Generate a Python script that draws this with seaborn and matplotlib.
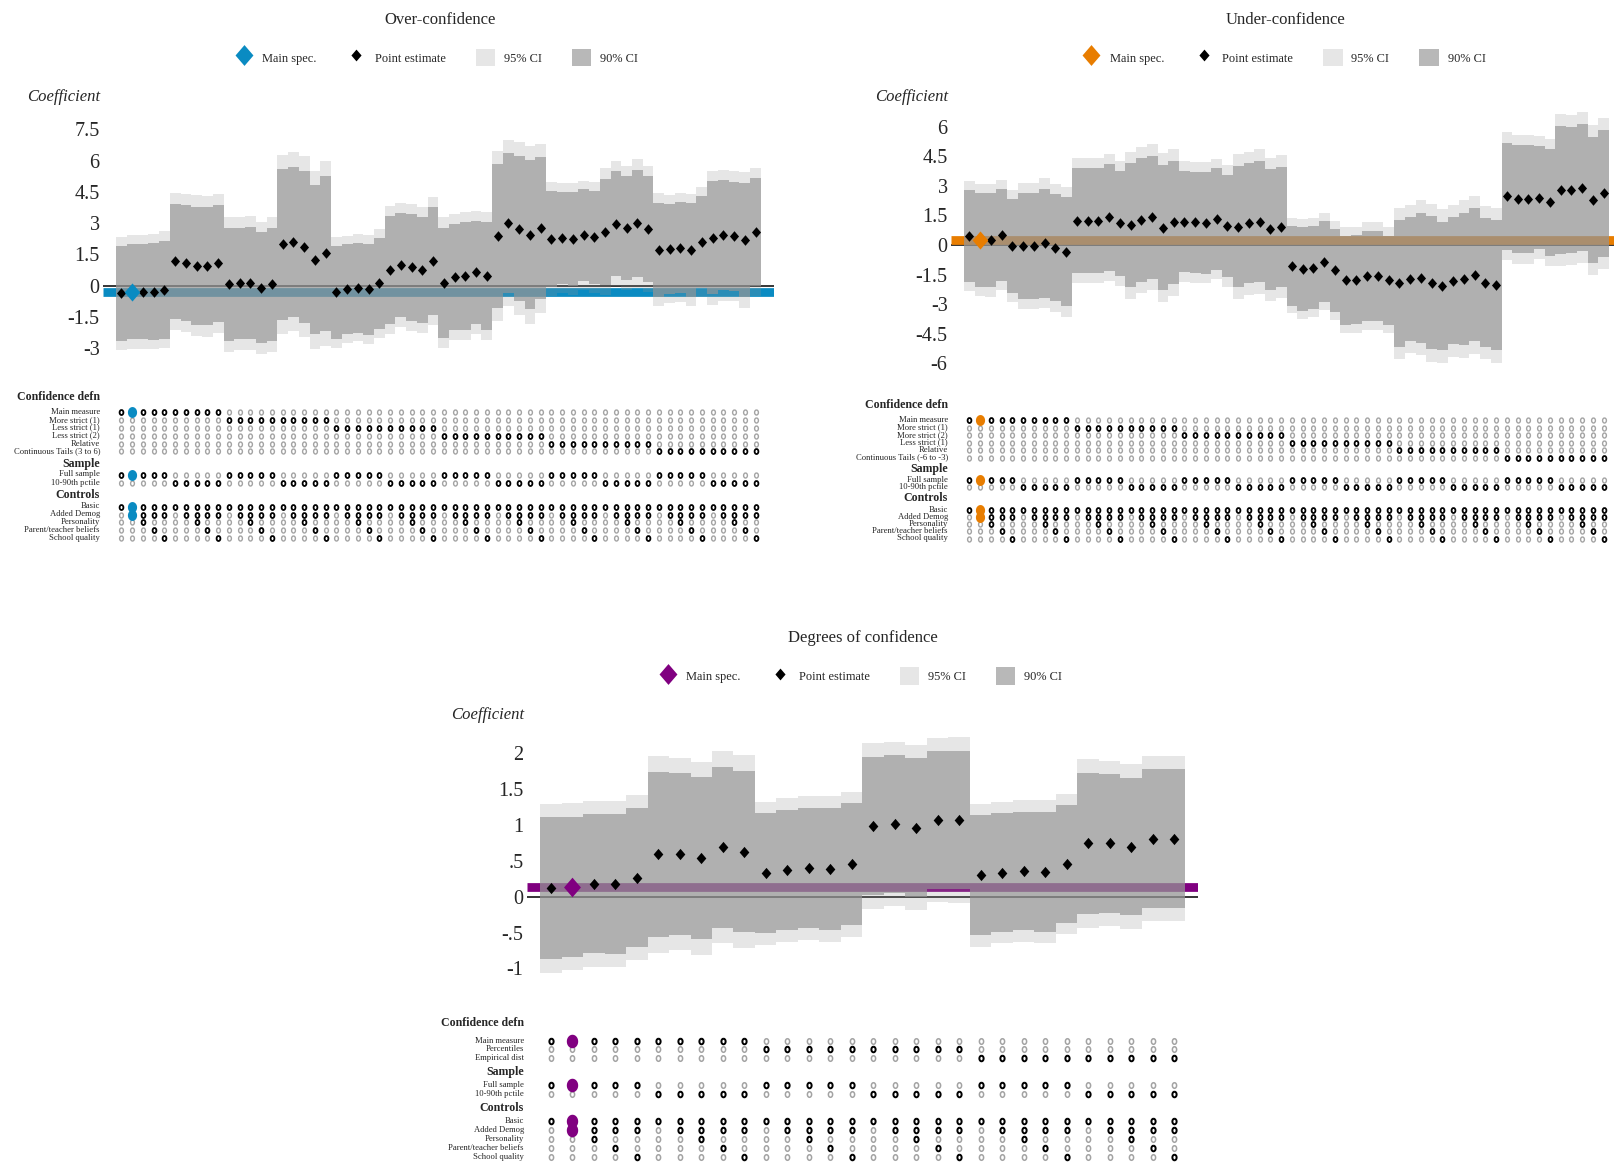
import numpy as np
import pandas as pd
import matplotlib
matplotlib.use("Agg")
import matplotlib.pyplot as plt
from matplotlib.lines import Line2D
from matplotlib.patches import Patch
from matplotlib.path import Path
import seaborn as sns

sns.set_theme(style="white")
plt.rcParams["font.family"] = ["Liberation Serif", "DejaVu Serif"]

# ------------------------------------------------------------------ data
over_est = [-0.37, -0.29, -0.29, -0.29, -0.19,
            1.17, 1.09, 0.96, 0.93, 1.07,
            0.06, 0.11, 0.14, -0.10, 0.06,
            1.98, 2.11, 1.87, 1.25, 1.55,
            -0.32, -0.16, -0.10, -0.18, 0.11,
            0.75, 0.99, 0.88, 0.74, 1.18,
            0.14, 0.43, 0.47, 0.64, 0.46,
            2.38, 3.01, 2.73, 2.44, 2.76,
            2.24, 2.30, 2.24, 2.41, 2.32,
            2.59, 2.98, 2.76, 2.99, 2.71,
            1.72, 1.77, 1.83, 1.69, 2.09,
            2.30, 2.42, 2.38, 2.20, 2.59]
over_se = [1.39, 1.39, 1.39, 1.41, 1.43,
           1.67, 1.69, 1.72, 1.72, 1.70,
           1.65, 1.62, 1.64, 1.62, 1.65,
           2.20, 2.19, 2.22, 2.18, 2.26,
           1.35, 1.31, 1.31, 1.33, 1.33,
           1.57, 1.51, 1.56, 1.54, 1.57,
           1.60, 1.54, 1.57, 1.51, 1.57,
           2.09, 2.04, 2.12, 2.17, 2.07,
           1.40, 1.34, 1.37, 1.34, 1.36,
           1.55, 1.53, 1.52, 1.57, 1.54,
           1.38, 1.32, 1.33, 1.37, 1.34,
           1.64, 1.60, 1.59, 1.66, 1.57]

under_est = [0.46, 0.25, 0.25, 0.51, -0.03,
             -0.05, -0.05, 0.08, -0.14, -0.35,
             1.23, 1.23, 1.23, 1.40, 1.10,
             1.01, 1.27, 1.40, 0.88, 1.15,
             1.18, 1.15, 1.13, 1.32, 0.96,
             0.93, 1.10, 1.18, 0.79, 0.93,
             -1.06, -1.20, -1.15, -0.84, -1.27,
             -1.79, -1.77, -1.57, -1.57, -1.79,
             -1.94, -1.72, -1.66, -1.91, -2.08,
             -1.82, -1.72, -1.52, -1.91, -2.04,
             2.48, 2.33, 2.33, 2.40, 2.16,
             2.79, 2.79, 2.91, 2.30, 2.62]
under_se = [1.42, 1.44, 1.46, 1.43, 1.45,
            1.64, 1.64, 1.68, 1.65, 1.68,
            1.62, 1.62, 1.62, 1.64, 1.62,
            1.90, 1.90, 1.89, 1.93, 1.90,
            1.56, 1.56, 1.57, 1.56, 1.57,
            1.87, 1.85, 1.87, 1.86, 1.85,
            1.23, 1.29, 1.28, 1.26, 1.28,
            1.37, 1.37, 1.40, 1.40, 1.37,
            1.95, 1.92, 2.01, 2.04, 1.98,
            1.96, 2.04, 2.05, 1.98, 2.01,
            1.65, 1.67, 1.67, 1.59, 1.64,
            1.97, 1.95, 1.96, 1.94, 1.95]

degree_est = [0.116, 0.14, 0.18, 0.18, 0.265,
              0.59, 0.595, 0.535, 0.69, 0.63,
              0.326, 0.37, 0.40, 0.39, 0.45,
              0.986, 1.014, 0.963, 1.07, 1.07,
              0.30, 0.335, 0.358, 0.35, 0.456,
              0.744, 0.744, 0.70, 0.81, 0.81]
degree_se = [0.602, 0.593, 0.589, 0.591, 0.588,
             0.700, 0.684, 0.687, 0.683, 0.686,
             0.509, 0.510, 0.512, 0.518, 0.517,
             0.588, 0.585, 0.588, 0.585, 0.588,
             0.510, 0.503, 0.503, 0.508, 0.500,
             0.600, 0.588, 0.584, 0.588, 0.588]

over_defn = ["Main measure", "More strict (1)", "Less strict (1)",
             "Less strict (2)", "Relative", "Continuous Tails (3 to 6)"]
under_defn = ["Main measure", "More strict (1)", "More strict (2)",
              "Less strict (1)", "Relative", "Continuous Tails (-6 to -3)"]
degree_defn = ["Main measure", "Percentiles", "Empirical dist"]
sample_labels = ["Full sample", "10-90th pctile"]
control_labels = ["Basic", "Added Demog", "Personality",
                  "Parent/teacher beliefs", "School quality"]
# control sets of the five specifications inside every sample block
control_sets = [["Basic"],
                ["Basic", "Added Demog"],
                ["Basic", "Added Demog", "Personality"],
                ["Basic", "Added Demog", "Parent/teacher beliefs"],
                ["Basic", "Added Demog", "School quality"]]
main_spec = 1

over_ticks = [7.5, 6, 4.5, 3, 1.5, 0, -1.5, -3]
over_ticklabels = ["7.5", "6", "4.5", "3", "1.5", "0", "-1.5", "-3"]
under_ticks = [6, 4.5, 3, 1.5, 0, -1.5, -3, -4.5, -6]
under_ticklabels = ["6", "4.5", "3", "1.5", "0", "-1.5", "-3", "-4.5", "-6"]
degree_ticks = [2, 1.5, 1, 0.5, 0, -0.5, -1]
degree_ticklabels = ["2", "1.5", "1", ".5", "0", "-.5", "-1"]

# ------------------------------------------------------------------ styling
W, H, DPI = 1614, 1164, 100
CI_GREY = "#959595"
A95, A90 = 0.236, 0.667
DIAMOND = Path([(0, 0.5), (0.43, 0), (0, -0.5), (-0.43, 0), (0, 0.5)],
               [Path.MOVETO, Path.LINETO, Path.LINETO, Path.LINETO, Path.CLOSEPOLY])
ELLIPSE = Path([(0.38 * np.sin(t), 0.5 * np.cos(t)) for t in np.linspace(0, 2 * np.pi, 41)])
OVAL = Path([(0.42 * np.sin(t), 0.5 * np.cos(t)) for t in np.linspace(0, 2 * np.pi, 41)])

fig = plt.figure(figsize=(W / DPI, H / DPI), dpi=DPI)


def fx(x):
    return x / W


def fy(y):
    return 1 - y / H


def px_axes(left, top, right, bottom):
    return fig.add_axes([fx(left), fy(bottom), (right - left) / W, (bottom - top) / H])


def spec_table(est, se, defns):
    rows = []
    i = 0
    for d in defns:
        for s in sample_labels:
            for cs in control_sets:
                rows.append(dict(spec=i, defn=d, sample=s, controls=cs,
                                 est=est[i], se=se[i]))
                i += 1
    df = pd.DataFrame(rows)
    df["lo90"] = df["est"] - 1.645 * df["se"]
    df["hi90"] = df["est"] + 1.645 * df["se"]
    df["lo95"] = df["est"] - 1.96 * df["se"]
    df["hi95"] = df["est"] + 1.96 * df["se"]
    return df


def draw_panel(df, defns, cfg):
    n = len(df)
    left, right, top, bottom = cfg["box"]
    margin = 13.0
    bar_px = (right - left - 2 * margin) / n
    ext = margin / bar_px

    ax = px_axes(left, top, right, bottom)
    zero_px, unit_px = cfg["zero_px"], cfg["unit_px"]
    sns.despine(ax=ax, left=True, bottom=True)
    ax.grid(False)

    main = df.loc[main_spec]
    colour = cfg["colour"]
    ax.axhline(0, color="black", lw=1.1, zorder=1)
    ax.axhline(main["est"], color=colour, lw=6.3, zorder=1, solid_capstyle="butt")
    # confidence intervals as stepped bands, one column per specification
    edges = np.append(df["spec"].to_numpy() - 0.5, df["spec"].iloc[-1] + 0.5)
    ax.stairs(df["hi95"], edges, baseline=df["lo95"], fill=True,
              color=CI_GREY, alpha=A95, linewidth=0, zorder=2)
    ax.stairs(df["hi90"], edges, baseline=df["lo90"], fill=True,
              color=CI_GREY, alpha=A90, linewidth=0, zorder=3)
    others = df.drop(index=main_spec)
    sns.scatterplot(data=others, x="spec", y="est", marker=DIAMOND, s=cfg["pt_s"],
                    color="black", linewidth=0, ax=ax, zorder=5, legend=False)
    sns.scatterplot(data=df.loc[[main_spec]], x="spec", y="est", marker=DIAMOND,
                    s=cfg["main_s"], color=colour, linewidth=0, ax=ax, zorder=6,
                    legend=False)
    ax.set_xlim(-0.5 - ext, n - 0.5 + ext)
    ax.set_ylim((zero_px - bottom) / unit_px, (zero_px - top) / unit_px)
    ax.set_xticks([])
    ax.set_yticks(cfg["ticks"])
    ax.set_yticklabels(cfg["ticklabels"], fontsize=14.5)
    ax.tick_params(axis="y", length=0, pad=2.5)
    ax.set_xlabel("")
    ax.set_ylabel("")

    # title, legend and axis caption
    fig.text(fx(cfg["title_xy"][0]), fy(cfg["title_xy"][1]), cfg["title"],
             ha="center", va="center", fontsize=12)
    handles = [
        Line2D([], [], marker=DIAMOND, linestyle="none", markersize=15,
               color=colour, markeredgewidth=0, label="Main spec."),
        Line2D([], [], marker=DIAMOND, linestyle="none", markersize=8.5,
               color="black", markeredgewidth=0, label="Point estimate"),
        Patch(facecolor=CI_GREY, alpha=A95, linewidth=0, label="95% CI"),
        Patch(facecolor=CI_GREY, alpha=A90, linewidth=0, label="90% CI"),
    ]
    fig.legend(handles=handles, ncol=4, frameon=False, fontsize=8.9,
               handlelength=1.6, handleheight=1.75, handletextpad=0.7,
               columnspacing=2.4, loc="center",
               bbox_to_anchor=(fx(cfg["legend_xy"][0]), fy(cfg["legend_xy"][1])))
    fig.text(fx(left - 3), fy(cfg["coef_y"]), "Coefficient", style="italic",
             ha="right", va="center", fontsize=12)

    # specification grid
    g = cfg["grid"]
    gtop, gbot = g["header"][0] - 10, g["rows_ctrl"][-1] + 8
    gax = px_axes(left, gtop, right, gbot)

    recs = []
    for lab, y in zip(defns, g["rows_defn"]):
        for _, r in df.iterrows():
            recs.append(dict(spec=r["spec"], y=y, on=r["defn"] == lab))
    for lab, y in zip(sample_labels, g["rows_sample"]):
        for _, r in df.iterrows():
            recs.append(dict(spec=r["spec"], y=y, on=r["sample"] == lab))
    for lab, y in zip(control_labels, g["rows_ctrl"]):
        for _, r in df.iterrows():
            recs.append(dict(spec=r["spec"], y=y, on=lab in r["controls"]))
    dots = pd.DataFrame(recs)
    dots["main"] = dots["spec"] == main_spec
    base = dots[~(dots["main"] & dots["on"])]
    for flag, col, lw in [(False, "#a3a3a3", g["dot_lw"]), (True, "black", g["dot_lw"] * 1.3)]:
        part = base[base["on"] == flag]
        gax.scatter(part["spec"], part["y"], marker=ELLIPSE, s=g["dot_s"],
                    facecolors="white", edgecolors=col, linewidths=lw,
                    zorder=3)
    hl = dots[dots["main"] & dots["on"]]
    sns.scatterplot(data=hl, x="spec", y="y", marker=OVAL, s=g["hl_s"],
                    color=colour, linewidth=0, ax=gax, zorder=4, legend=False)
    gax.set_xlim(-0.5 - ext, n - 0.5 + ext)
    gax.set_ylim(gbot, gtop)
    gax.axis("off")

    lx = fx(left - 3)
    for head, y in zip(["Confidence defn", "Sample", "Controls"], g["header"]):
        fig.text(lx, fy(y), head, ha="right", va="center", fontsize=8.6,
                 fontweight="bold")
    for labs, ys in [(defns, g["rows_defn"]), (sample_labels, g["rows_sample"]),
                     (control_labels, g["rows_ctrl"])]:
        for lab, y in zip(labs, ys):
            fig.text(lx, fy(y), lab, ha="right", va="center", fontsize=6.2)


over_df = spec_table(over_est, over_se, over_defn)
under_df = spec_table(under_est, under_se, under_defn)
degree_df = spec_table(degree_est, degree_se, degree_defn)

draw_panel(over_df, over_defn, dict(
    box=(103, 774, 115, 365), zero_px=285.7, unit_px=20.85,
    ticks=over_ticks, ticklabels=over_ticklabels, colour="#0a8bc2",
    pt_s=58, main_s=170, title="Over-confidence", title_xy=(440, 19.5),
    legend_xy=(436, 57.6), coef_y=97,
    grid=dict(header=[397, 464, 495],
              rows_defn=[412, 420, 427.5, 435.5, 443.5, 451],
              rows_sample=[474.5, 482.5],
              rows_ctrl=[506.5, 514.5, 522, 530, 537.5],
              dot_s=13, dot_lw=1.0, hl_s=62)))

draw_panel(under_df, under_defn, dict(
    box=(951, 1622, 110, 375), zero_px=245.0, unit_px=19.72,
    ticks=under_ticks, ticklabels=under_ticklabels, colour="#e87d00",
    pt_s=58, main_s=170, title="Under-confidence", title_xy=(1285.6, 19.5),
    legend_xy=(1283.5, 57.6), coef_y=97,
    grid=dict(header=[405.5, 469, 498],
              rows_defn=[420, 427.5, 435, 442.5, 450, 457.5],
              rows_sample=[479.5, 487],
              rows_ctrl=[509.5, 517, 524, 531, 538.5],
              dot_s=13, dot_lw=1.0, hl_s=62)))

draw_panel(degree_df, degree_defn, dict(
    box=(527, 1198, 735, 990), zero_px=896.7, unit_px=71.7,
    ticks=degree_ticks, ticklabels=degree_ticklabels, colour="#800080",
    pt_s=66, main_s=200, title="Degrees of confidence", title_xy=(862.6, 638),
    legend_xy=(860, 676), coef_y=715,
    grid=dict(header=[1023, 1072.5, 1107.6],
              rows_defn=[1040.6, 1049.3, 1058],
              rows_sample=[1085, 1094],
              rows_ctrl=[1121, 1130, 1139, 1148, 1157],
              dot_s=16, dot_lw=1.1, hl_s=95)))

fig.savefig("out.png", dpi=DPI)
